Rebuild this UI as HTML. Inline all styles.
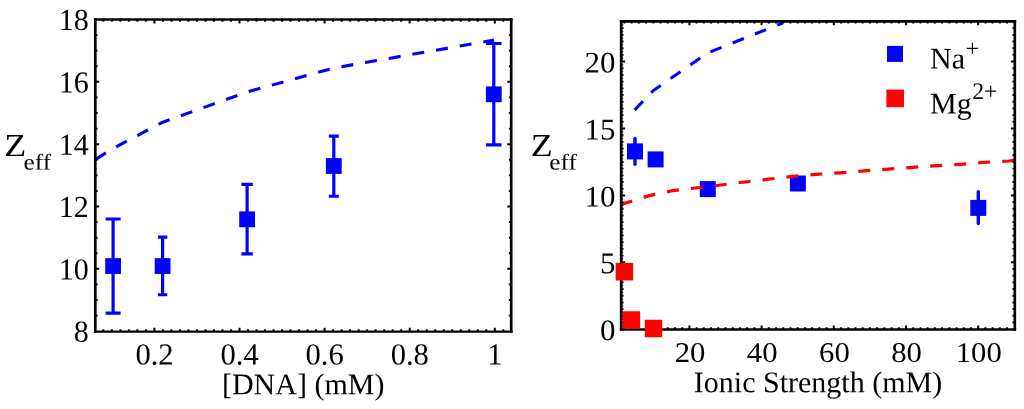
<!DOCTYPE html>
<html><head><meta charset="utf-8"><title>Zeff plots</title>
<style>html,body{margin:0;padding:0;background:#fff;}body{width:1024px;height:409px;overflow:hidden;font-family:"Liberation Serif",serif;}svg{display:block;}</style>
</head><body>
<svg width="1024" height="409" viewBox="0 0 1024 409">
<rect width="1024" height="409" fill="#fff"/>
<g opacity="0.999">
<defs>
<clipPath id="cl"><rect x="95.30" y="19.55" width="415.90" height="312.05"/></clipPath>
<clipPath id="cr"><rect x="621.20" y="21.30" width="393.60" height="308.20"/></clipPath>
</defs>
<polyline points="88.00,164.20 112.50,148.70 161.50,122.70 247.00,92.00 333.50,68.10 494.00,40.10" fill="none" stroke="#00f" stroke-width="3.1" stroke-dasharray="12 12" stroke-dashoffset="14.88" clip-path="url(#cl)"/>
<path d="M113.10 218.99V313.12M105.60 218.99h15.0M105.60 313.12h15.0" stroke="#00f" stroke-width="3.2" fill="none"/>
<rect x="105.20" y="258.15" width="15.8" height="15.8" fill="#00f"/>
<path d="M162.60 237.07V294.73M157.90 237.07h9.4M157.90 294.73h9.4" stroke="#00f" stroke-width="3.2" fill="none"/>
<rect x="154.70" y="258.15" width="15.8" height="15.8" fill="#00f"/>
<path d="M247.10 184.39V253.90M241.35 184.39h11.5M241.35 253.90h11.5" stroke="#00f" stroke-width="3.2" fill="none"/>
<rect x="239.20" y="211.40" width="15.8" height="15.8" fill="#00f"/>
<path d="M333.80 136.08V196.23M328.80 136.08h10.0M328.80 196.23h10.0" stroke="#00f" stroke-width="3.2" fill="none"/>
<rect x="325.90" y="158.10" width="15.8" height="15.8" fill="#00f"/>
<path d="M493.80 43.50V144.80M486.05 43.50h15.5M486.05 144.80h15.5" stroke="#00f" stroke-width="3.2" fill="none"/>
<rect x="485.90" y="86.41" width="15.8" height="15.8" fill="#00f"/>
<path d="M95.30 18.35V332.80M511.20 18.35V332.80" stroke="#000" stroke-width="2.7" fill="none"/>
<path d="M93.95 331.60H512.55" stroke="#000" stroke-width="2.4" fill="none"/>
<path d="M93.95 19.55H512.55" stroke="#000" stroke-width="2.4" fill="none"/>
<path d="M154.40 331.60v-3.9M154.40 19.55v3.9M239.50 331.60v-3.9M239.50 19.55v3.9M324.60 331.60v-3.9M324.60 19.55v3.9M409.70 331.60v-3.9M409.70 19.55v3.9M494.80 331.60v-3.9M494.80 19.55v3.9M95.30 268.86h3.9M95.30 206.52h3.9M95.30 144.18h3.9M95.30 81.84h3.9M511.20 268.86h-3.9M511.20 206.52h-3.9M511.20 144.18h-3.9M511.20 81.84h-3.9" stroke="#000" stroke-width="2.0" fill="none"/>
<path d="M103.34 331.60v-2.3M103.34 19.55v2.3M111.85 331.60v-2.3M111.85 19.55v2.3M120.36 331.60v-2.3M120.36 19.55v2.3M128.87 331.60v-2.3M128.87 19.55v2.3M137.38 331.60v-2.3M137.38 19.55v2.3M145.89 331.60v-2.3M145.89 19.55v2.3M162.91 331.60v-2.3M162.91 19.55v2.3M171.42 331.60v-2.3M171.42 19.55v2.3M179.93 331.60v-2.3M179.93 19.55v2.3M188.44 331.60v-2.3M188.44 19.55v2.3M196.95 331.60v-2.3M196.95 19.55v2.3M205.46 331.60v-2.3M205.46 19.55v2.3M213.97 331.60v-2.3M213.97 19.55v2.3M222.48 331.60v-2.3M222.48 19.55v2.3M230.99 331.60v-2.3M230.99 19.55v2.3M248.01 331.60v-2.3M248.01 19.55v2.3M256.52 331.60v-2.3M256.52 19.55v2.3M265.03 331.60v-2.3M265.03 19.55v2.3M273.54 331.60v-2.3M273.54 19.55v2.3M282.05 331.60v-2.3M282.05 19.55v2.3M290.56 331.60v-2.3M290.56 19.55v2.3M299.07 331.60v-2.3M299.07 19.55v2.3M307.58 331.60v-2.3M307.58 19.55v2.3M316.09 331.60v-2.3M316.09 19.55v2.3M333.11 331.60v-2.3M333.11 19.55v2.3M341.62 331.60v-2.3M341.62 19.55v2.3M350.13 331.60v-2.3M350.13 19.55v2.3M358.64 331.60v-2.3M358.64 19.55v2.3M367.15 331.60v-2.3M367.15 19.55v2.3M375.66 331.60v-2.3M375.66 19.55v2.3M384.17 331.60v-2.3M384.17 19.55v2.3M392.68 331.60v-2.3M392.68 19.55v2.3M401.19 331.60v-2.3M401.19 19.55v2.3M418.21 331.60v-2.3M418.21 19.55v2.3M426.72 331.60v-2.3M426.72 19.55v2.3M435.23 331.60v-2.3M435.23 19.55v2.3M443.74 331.60v-2.3M443.74 19.55v2.3M452.25 331.60v-2.3M452.25 19.55v2.3M460.76 331.60v-2.3M460.76 19.55v2.3M469.27 331.60v-2.3M469.27 19.55v2.3M477.78 331.60v-2.3M477.78 19.55v2.3M486.29 331.60v-2.3M486.29 19.55v2.3M503.31 331.60v-2.3M503.31 19.55v2.3M95.30 315.62h2.3M95.30 300.03h2.3M95.30 284.44h2.3M95.30 253.27h2.3M95.30 237.69h2.3M95.30 222.10h2.3M95.30 190.93h2.3M95.30 175.35h2.3M95.30 159.76h2.3M95.30 128.59h2.3M95.30 113.01h2.3M95.30 97.42h2.3M95.30 66.25h2.3M95.30 50.67h2.3M95.30 35.08h2.3M511.20 315.62h-2.3M511.20 300.03h-2.3M511.20 284.44h-2.3M511.20 253.27h-2.3M511.20 237.69h-2.3M511.20 222.10h-2.3M511.20 190.93h-2.3M511.20 175.35h-2.3M511.20 159.76h-2.3M511.20 128.59h-2.3M511.20 113.01h-2.3M511.20 97.42h-2.3M511.20 66.25h-2.3M511.20 50.67h-2.3M511.20 35.08h-2.3" stroke="#000" stroke-width="1.9" fill="none"/>
<text transform="translate(154.50,364.60) rotate(0.03) scale(1.0,1)" font-size="30.6" text-anchor="middle" font-family="Liberation Serif, serif" >0.2</text>
<text transform="translate(239.60,364.60) rotate(0.03) scale(1.0,1)" font-size="30.6" text-anchor="middle" font-family="Liberation Serif, serif" >0.4</text>
<text transform="translate(324.70,364.60) rotate(0.03) scale(1.0,1)" font-size="30.6" text-anchor="middle" font-family="Liberation Serif, serif" >0.6</text>
<text transform="translate(409.80,364.60) rotate(0.03) scale(1.0,1)" font-size="30.6" text-anchor="middle" font-family="Liberation Serif, serif" >0.8</text>
<text transform="translate(494.80,364.60) rotate(0.03) scale(1.0,1)" font-size="30.6" text-anchor="middle" font-family="Liberation Serif, serif" >1</text>
<text transform="translate(88.80,341.80) rotate(0.03) scale(0.98,1)" font-size="30.6" text-anchor="end" font-family="Liberation Serif, serif" >8</text>
<text transform="translate(88.80,279.46) rotate(0.03) scale(0.98,1)" font-size="30.6" text-anchor="end" font-family="Liberation Serif, serif" >10</text>
<text transform="translate(88.80,217.12) rotate(0.03) scale(0.98,1)" font-size="30.6" text-anchor="end" font-family="Liberation Serif, serif" >12</text>
<text transform="translate(88.80,154.78) rotate(0.03) scale(0.98,1)" font-size="30.6" text-anchor="end" font-family="Liberation Serif, serif" >14</text>
<text transform="translate(88.80,92.44) rotate(0.03) scale(0.98,1)" font-size="30.6" text-anchor="end" font-family="Liberation Serif, serif" >16</text>
<text transform="translate(88.80,30.10) rotate(0.03) scale(0.98,1)" font-size="30.6" text-anchor="end" font-family="Liberation Serif, serif" >18</text>
<text transform="translate(303.20,394.30) rotate(0.03) scale(1.0,1)" font-size="30" text-anchor="middle" font-family="Liberation Serif, serif" >[DNA] (mM)</text>
<text transform="translate(4.25,156.1) rotate(0.03) scale(1.125,1)" font-size="32" font-family="Liberation Serif, serif">Z</text>
<text transform="translate(23.60,169.4) rotate(0.03) scale(1.12,1)" font-size="22.5" font-family="Liberation Serif, serif">eff</text>
<path d="M635.00 138.40V164.20" stroke="#00f" stroke-width="3.4" stroke-linecap="round" fill="none"/>
<rect x="627.00" y="143.40" width="16.0" height="16.0" fill="#00f"/>
<rect x="647.60" y="151.40" width="16.0" height="16.0" fill="#00f"/>
<rect x="699.80" y="181.10" width="16.0" height="16.0" fill="#00f"/>
<rect x="789.90" y="175.50" width="16.0" height="16.0" fill="#00f"/>
<path d="M978.30 191.60V223.50" stroke="#00f" stroke-width="3.4" stroke-linecap="round" fill="none"/>
<rect x="970.30" y="199.90" width="16.0" height="16.0" fill="#00f"/>
<polyline points="634.60,110.00 653.30,90.60 707.45,53.00 782.80,22.95" fill="none" stroke="#00f" stroke-width="3.1" stroke-dasharray="12 12" stroke-dashoffset="0.00" clip-path="url(#cr)"/>
<polyline points="610.00,209.50 621.20,204.60 624.00,203.50 649.30,195.65 672.95,190.55 697.00,187.75 721.00,185.00 744.70,182.00 768.60,179.20 792.70,176.40 816.25,174.40 840.40,172.80 864.45,170.80 888.50,169.10 912.60,167.35 936.50,165.70 960.60,164.30 984.65,162.30 1008.40,161.00 1016.00,160.30" fill="none" stroke="#f00" stroke-width="3.2" stroke-dasharray="12 12.05" stroke-dashoffset="12.27" clip-path="url(#cr)"/>
<path d="M621.20 19.95V330.70M1014.80 19.95V330.70" stroke="#000" stroke-width="2.7" fill="none"/>
<path d="M619.85 329.50H1016.15" stroke="#000" stroke-width="2.4" fill="none"/>
<path d="M619.85 21.30H1016.15" stroke="#000" stroke-width="2.7" fill="none"/>
<path d="M621.20 325.85h1.95M621.20 319.16h1.95M621.20 312.47h1.95M621.20 305.78h1.95M621.20 299.09h1.95M621.20 292.40h1.95M621.20 285.71h1.95M621.20 279.02h1.95M621.20 272.33h1.95M621.20 265.64h1.95M621.20 258.95h1.95M621.20 252.26h1.95M621.20 245.57h1.95M621.20 238.88h1.95M621.20 232.19h1.95M621.20 225.50h1.95M621.20 218.81h1.95M621.20 212.12h1.95M621.20 205.44h1.95M621.20 198.74h1.95M621.20 192.05h1.95M621.20 185.36h1.95M621.20 178.67h1.95M621.20 171.98h1.95M621.20 165.29h1.95M621.20 158.60h1.95M621.20 151.91h1.95M621.20 145.22h1.95M621.20 138.53h1.95M621.20 131.84h1.95M621.20 125.15h1.95M621.20 118.46h1.95M621.20 111.77h1.95M621.20 105.08h1.95M621.20 98.39h1.95M621.20 91.70h1.95M621.20 85.01h1.95M621.20 78.32h1.95M621.20 71.63h1.95M621.20 64.94h1.95M621.20 58.25h1.95M621.20 51.56h1.95M621.20 44.88h1.95M621.20 38.18h1.95M621.20 31.49h1.95M621.20 24.80h1.95" stroke="#000" stroke-width="1.3" fill="none"/>
<path d="M689.40 329.50v-3.9M689.40 21.30v3.9M761.60 329.50v-3.9M761.60 21.30v3.9M833.80 329.50v-3.9M833.80 21.30v3.9M906.00 329.50v-3.9M906.00 21.30v3.9M978.20 329.50v-3.9M978.20 21.30v3.9M621.20 262.30h3.9M621.20 195.40h3.9M621.20 128.50h3.9M621.20 61.60h3.9M1014.80 262.30h-3.9M1014.80 195.40h-3.9M1014.80 128.50h-3.9M1014.80 61.60h-3.9" stroke="#000" stroke-width="2.0" fill="none"/>
<path d="M624.42 329.50v-2.3M624.42 21.30v2.3M631.64 329.50v-2.3M631.64 21.30v2.3M638.86 329.50v-2.3M638.86 21.30v2.3M646.08 329.50v-2.3M646.08 21.30v2.3M653.30 329.50v-2.3M653.30 21.30v2.3M660.52 329.50v-2.3M660.52 21.30v2.3M667.74 329.50v-2.3M667.74 21.30v2.3M674.96 329.50v-2.3M674.96 21.30v2.3M682.18 329.50v-2.3M682.18 21.30v2.3M696.62 329.50v-2.3M696.62 21.30v2.3M703.84 329.50v-2.3M703.84 21.30v2.3M711.06 329.50v-2.3M711.06 21.30v2.3M718.28 329.50v-2.3M718.28 21.30v2.3M725.50 329.50v-2.3M725.50 21.30v2.3M732.72 329.50v-2.3M732.72 21.30v2.3M739.94 329.50v-2.3M739.94 21.30v2.3M747.16 329.50v-2.3M747.16 21.30v2.3M754.38 329.50v-2.3M754.38 21.30v2.3M768.82 329.50v-2.3M768.82 21.30v2.3M776.04 329.50v-2.3M776.04 21.30v2.3M783.26 329.50v-2.3M783.26 21.30v2.3M790.48 329.50v-2.3M790.48 21.30v2.3M797.70 329.50v-2.3M797.70 21.30v2.3M804.92 329.50v-2.3M804.92 21.30v2.3M812.14 329.50v-2.3M812.14 21.30v2.3M819.36 329.50v-2.3M819.36 21.30v2.3M826.58 329.50v-2.3M826.58 21.30v2.3M841.02 329.50v-2.3M841.02 21.30v2.3M848.24 329.50v-2.3M848.24 21.30v2.3M855.46 329.50v-2.3M855.46 21.30v2.3M862.68 329.50v-2.3M862.68 21.30v2.3M869.90 329.50v-2.3M869.90 21.30v2.3M877.12 329.50v-2.3M877.12 21.30v2.3M884.34 329.50v-2.3M884.34 21.30v2.3M891.56 329.50v-2.3M891.56 21.30v2.3M898.78 329.50v-2.3M898.78 21.30v2.3M913.22 329.50v-2.3M913.22 21.30v2.3M920.44 329.50v-2.3M920.44 21.30v2.3M927.66 329.50v-2.3M927.66 21.30v2.3M934.88 329.50v-2.3M934.88 21.30v2.3M942.10 329.50v-2.3M942.10 21.30v2.3M949.32 329.50v-2.3M949.32 21.30v2.3M956.54 329.50v-2.3M956.54 21.30v2.3M963.76 329.50v-2.3M963.76 21.30v2.3M970.98 329.50v-2.3M970.98 21.30v2.3M985.42 329.50v-2.3M985.42 21.30v2.3M992.64 329.50v-2.3M992.64 21.30v2.3M999.86 329.50v-2.3M999.86 21.30v2.3M1007.08 329.50v-2.3M1007.08 21.30v2.3M621.20 322.51h2.3M621.20 315.82h2.3M621.20 309.13h2.3M621.20 302.44h2.3M621.20 295.75h2.3M621.20 289.06h2.3M621.20 282.37h2.3M621.20 275.68h2.3M621.20 268.99h2.3M621.20 255.61h2.3M621.20 248.92h2.3M621.20 242.23h2.3M621.20 235.54h2.3M621.20 228.85h2.3M621.20 222.16h2.3M621.20 215.47h2.3M621.20 208.78h2.3M621.20 202.09h2.3M621.20 188.71h2.3M621.20 182.02h2.3M621.20 175.33h2.3M621.20 168.64h2.3M621.20 161.95h2.3M621.20 155.26h2.3M621.20 148.57h2.3M621.20 141.88h2.3M621.20 135.19h2.3M621.20 121.81h2.3M621.20 115.12h2.3M621.20 108.43h2.3M621.20 101.74h2.3M621.20 95.05h2.3M621.20 88.36h2.3M621.20 81.67h2.3M621.20 74.98h2.3M621.20 68.29h2.3M621.20 54.91h2.3M621.20 48.22h2.3M621.20 41.53h2.3M621.20 34.84h2.3M621.20 28.15h2.3M1014.80 322.51h-2.3M1014.80 315.82h-2.3M1014.80 309.13h-2.3M1014.80 302.44h-2.3M1014.80 295.75h-2.3M1014.80 289.06h-2.3M1014.80 282.37h-2.3M1014.80 275.68h-2.3M1014.80 268.99h-2.3M1014.80 255.61h-2.3M1014.80 248.92h-2.3M1014.80 242.23h-2.3M1014.80 235.54h-2.3M1014.80 228.85h-2.3M1014.80 222.16h-2.3M1014.80 215.47h-2.3M1014.80 208.78h-2.3M1014.80 202.09h-2.3M1014.80 188.71h-2.3M1014.80 182.02h-2.3M1014.80 175.33h-2.3M1014.80 168.64h-2.3M1014.80 161.95h-2.3M1014.80 155.26h-2.3M1014.80 148.57h-2.3M1014.80 141.88h-2.3M1014.80 135.19h-2.3M1014.80 121.81h-2.3M1014.80 115.12h-2.3M1014.80 108.43h-2.3M1014.80 101.74h-2.3M1014.80 95.05h-2.3M1014.80 88.36h-2.3M1014.80 81.67h-2.3M1014.80 74.98h-2.3M1014.80 68.29h-2.3M1014.80 54.91h-2.3M1014.80 48.22h-2.3M1014.80 41.53h-2.3M1014.80 34.84h-2.3M1014.80 28.15h-2.3" stroke="#000" stroke-width="1.9" fill="none"/>
<rect x="615.65" y="262.95" width="17.5" height="17.5" fill="#f00"/>
<rect x="622.65" y="311.25" width="17.5" height="17.5" fill="#f00"/>
<rect x="644.75" y="319.75" width="17.5" height="17.5" fill="#f00"/>
<text transform="translate(690.00,361.95) rotate(0.03) scale(1.075,1)" font-size="28.6" text-anchor="middle" font-family="Liberation Serif, serif" >20</text>
<text transform="translate(762.20,361.95) rotate(0.03) scale(1.075,1)" font-size="28.6" text-anchor="middle" font-family="Liberation Serif, serif" >40</text>
<text transform="translate(834.40,361.95) rotate(0.03) scale(1.075,1)" font-size="28.6" text-anchor="middle" font-family="Liberation Serif, serif" >60</text>
<text transform="translate(906.60,361.95) rotate(0.03) scale(1.075,1)" font-size="28.6" text-anchor="middle" font-family="Liberation Serif, serif" >80</text>
<text transform="translate(978.80,361.95) rotate(0.03) scale(1.075,1)" font-size="28.6" text-anchor="middle" font-family="Liberation Serif, serif" >100</text>
<text transform="translate(615.40,340.20) rotate(0.03) scale(1.03,1)" font-size="30.0" text-anchor="end" font-family="Liberation Serif, serif" >0</text>
<text transform="translate(615.40,273.30) rotate(0.03) scale(1.03,1)" font-size="30.0" text-anchor="end" font-family="Liberation Serif, serif" >5</text>
<text transform="translate(615.40,206.40) rotate(0.03) scale(1.03,1)" font-size="30.0" text-anchor="end" font-family="Liberation Serif, serif" >10</text>
<text transform="translate(615.40,139.50) rotate(0.03) scale(1.03,1)" font-size="30.0" text-anchor="end" font-family="Liberation Serif, serif" >15</text>
<text transform="translate(615.40,72.60) rotate(0.03) scale(1.03,1)" font-size="30.0" text-anchor="end" font-family="Liberation Serif, serif" >20</text>
<text transform="translate(818.00,392.20) rotate(0.03) scale(1.0,1)" font-size="30" text-anchor="middle" font-family="Liberation Serif, serif" >Ionic Strength (mM)</text>
<text transform="translate(530.65,156.1) rotate(0.03) scale(1.125,1)" font-size="32" font-family="Liberation Serif, serif">Z</text>
<text transform="translate(549.35,169.4) rotate(0.03) scale(1.12,1)" font-size="22.5" font-family="Liberation Serif, serif">eff</text>
<rect x="887.00" y="45.90" width="16.0" height="16.0" fill="#00f"/>
<rect x="886.40" y="89.60" width="17.6" height="17.6" fill="#f00"/>
<text transform="translate(930.00,68.60) rotate(0.03) scale(1.0,1)" font-size="30" text-anchor="start" font-family="Liberation Serif, serif" >Na</text>
<text transform="translate(965.50,56.60) rotate(0.03) scale(1.0,1)" font-size="24.5" text-anchor="start" font-family="Liberation Serif, serif" >+</text>
<text transform="translate(930.00,113.60) rotate(0.03) scale(1.0,1)" font-size="30" text-anchor="start" font-family="Liberation Serif, serif" >Mg</text>
<text transform="translate(972.20,98.90) rotate(0.03) scale(1.0,1)" font-size="23.7" text-anchor="start" font-family="Liberation Serif, serif" >2+</text>
</g>
</svg>
</body></html>
